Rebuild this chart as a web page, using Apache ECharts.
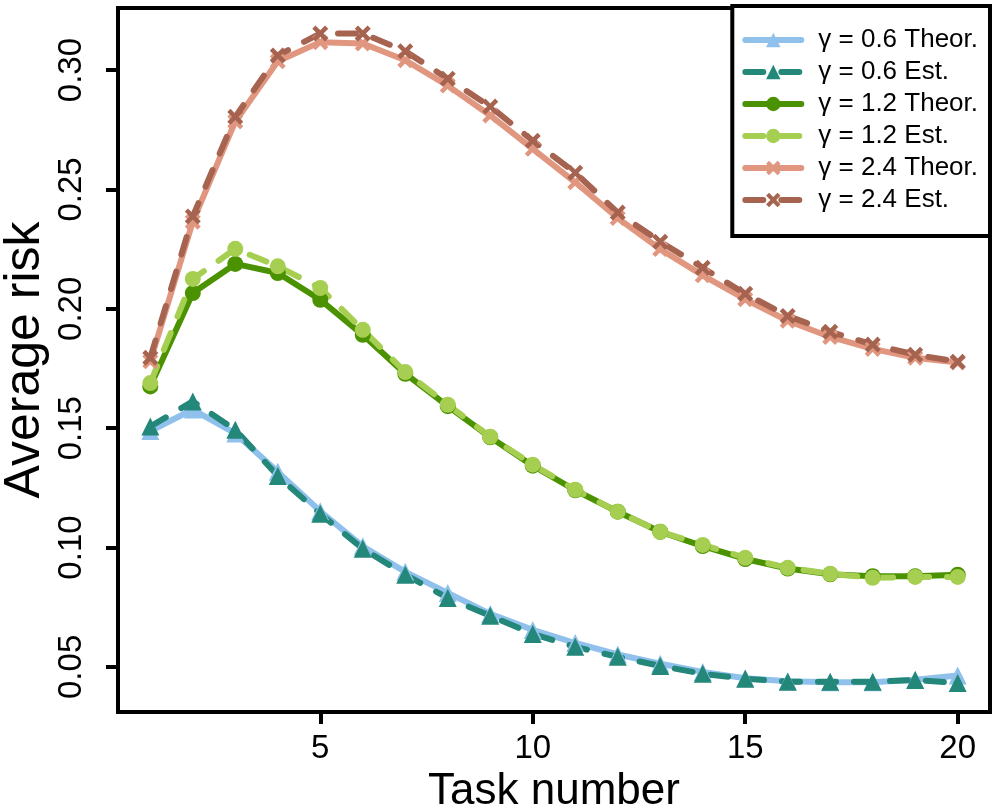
<!DOCTYPE html>
<html>
<head>
<meta charset="utf-8">
<script src="https://cdn.jsdelivr.net/npm/echarts@6/dist/echarts.min.js"></script>
<style>
  html, body { margin: 0; padding: 0; background: #fff; }
  #chart { width: 997px; height: 810px; }
</style>
</head>
<body>
<div id="chart"></div>
<script>
// task numbers 1..20
const tasks = [1, 2, 3, 4, 5, 6, 7, 8, 9, 10, 11, 12, 13, 14, 15, 16, 17, 18, 19, 20]

// gamma = 0.6
const theor06 = [0.1488, 0.1578, 0.1478, 0.1317, 0.1152, 0.1005, 0.0898, 0.0810, 0.0722, 0.0655,
  0.0600, 0.0552, 0.0513, 0.0479, 0.0452, 0.0440, 0.0436, 0.0436, 0.0446, 0.0464]
const est06 = [0.1507, 0.1612, 0.1493, 0.1300, 0.1141, 0.0995, 0.0886, 0.0789, 0.0714, 0.0638,
  0.0584, 0.0542, 0.0504, 0.0471, 0.0450, 0.0438, 0.0438, 0.0438, 0.0445, 0.0432]

// gamma = 1.2
const theor12 = [0.1675, 0.2066, 0.2188, 0.2150, 0.2038, 0.1891, 0.1728, 0.1592, 0.1462, 0.1343,
  0.1240, 0.1150, 0.1066, 0.1006, 0.0952, 0.0912, 0.0888, 0.0880, 0.0880, 0.0886]
const est12 = [0.1689, 0.2125, 0.2251, 0.2178, 0.2087, 0.1912, 0.1735, 0.1598, 0.1464, 0.1347,
  0.1242, 0.1150, 0.1066, 0.1011, 0.0957, 0.0915, 0.0890, 0.0873, 0.0877, 0.0877]

// gamma = 2.4
const theor24 = [0.1780, 0.2365, 0.2785, 0.3037, 0.3117, 0.3111, 0.3041, 0.2935, 0.2810, 0.2670,
  0.2530, 0.2380, 0.2250, 0.2140, 0.2040, 0.1950, 0.1882, 0.1832, 0.1795, 0.1775]
const est24 = [0.1795, 0.2387, 0.2804, 0.3061, 0.3153, 0.3153, 0.3079, 0.2964, 0.2847, 0.2704,
  0.2570, 0.2403, 0.2281, 0.2172, 0.2063, 0.1970, 0.1904, 0.1850, 0.1808, 0.1778]

const xTicks = [5, 10, 15, 20]
const yTicks = [0.05, 0.10, 0.15, 0.20, 0.25, 0.30]

const crossPath = 'path://M2,0 L5,3 L8,0 L10,2 L7,5 L10,8 L8,10 L5,7 L2,10 L0,8 L3,5 L0,2 Z'
const dash = [18, 18]

const pairs = d => tasks.map((t, i) => [t, d[i]])

const makeSeries = (name, data, color, symbol, size, dashed) => ({
  name,
  type: 'line',
  data: pairs(data),
  symbol,
  symbolSize: size,
  showAllSymbol: true,
  itemStyle: { color },
  lineStyle: {
    color,
    width: 6,
    type: dashed ? dash : 'solid',
    cap: 'round'
  },
  emphasis: { disabled: true }
})

const chart = echarts.init(document.getElementById('chart'))

const fontFamily = '"Liberation Sans", Arial, sans-serif'

chart.setOption({
  animation: false,
  textStyle: { fontFamily },
  grid: {
    left: 118,
    right: 7,
    top: 8,
    bottom: 98,
    outerBoundsMode: 'none',
    show: true,
    borderColor: '#000',
    borderWidth: 4,
    backgroundColor: 'transparent'
  },
  xAxis: {
    type: 'value',
    min: 0.24,
    max: 20.76,
    name: 'Task number',
    nameLocation: 'middle',
    nameGap: 54,
    nameTextStyle: { fontSize: 44, color: '#000' },
    splitLine: { show: false },
    axisLine: { show: false },
    axisTick: {
      show: true,
      length: 12,
      lineStyle: { color: '#000', width: 4 },
      customValues: xTicks
    },
    axisLabel: {
      fontSize: 33,
      color: '#000',
      margin: 20,
      customValues: xTicks
    }
  },
  yAxis: {
    type: 'value',
    min: 0.0311,
    max: 0.326,
    name: 'Average risk',
    nameLocation: 'middle',
    nameGap: 68,
    nameMoveOverlap: false,
    nameRotate: 90,
    nameTextStyle: { fontSize: 50, color: '#000' },
    splitLine: { show: false },
    axisLine: { show: false },
    axisTick: {
      show: true,
      length: 12,
      lineStyle: { color: '#000', width: 4 },
      customValues: yTicks
    },
    axisLabel: {
      fontSize: 33,
      color: '#000',
      rotate: 90,
      margin: 30,
      customValues: yTicks,
      formatter: v => v.toFixed(2)
    }
  },
  legend: {
    orient: 'vertical',
    right: 7,
    top: 6,
    itemWidth: 56,
    itemHeight: 18,
    itemGap: 6,
    padding: [21, 12, 23, 10],
    borderColor: '#000',
    borderWidth: 4,
    backgroundColor: '#fff',
    lineStyle: { width: 6, type: 'inherit', cap: 'round' },
    textStyle: { fontSize: 26, color: '#000', padding: [0, 0, 0, 12] }
  },
  series: [
    makeSeries('γ = 0.6 Theor.', theor06, '#8fc1ec', 'triangle', 18, false),
    makeSeries('γ = 0.6 Est.', est06, '#23877a', 'triangle', 18, true),
    makeSeries('γ = 1.2 Theor.', theor12, '#4a9200', 'circle', 16, false),
    makeSeries('γ = 1.2 Est.', est12, '#a6cf52', 'circle', 16, true),
    makeSeries('γ = 2.4 Theor.', theor24, '#e0967f', crossPath, 16, false),
    makeSeries('γ = 2.4 Est.', est24, '#a66350', crossPath, 16, true)
  ]
})
</script>
</body>
</html>
